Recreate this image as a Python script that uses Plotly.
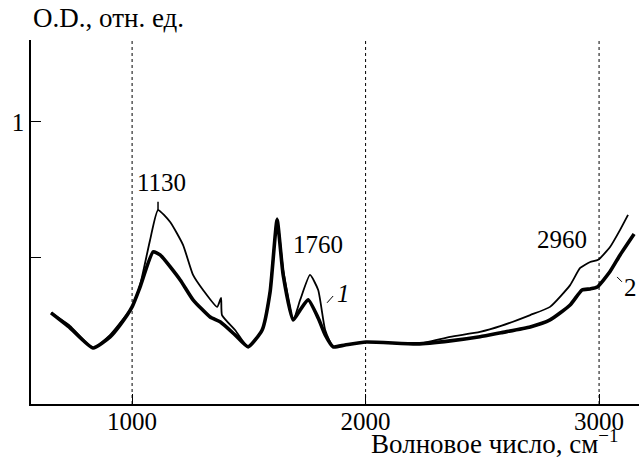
import plotly.graph_objects as go

# Spectrum 1 (thin line)
wn1 = [653, 734, 833, 906, 949, 1000, 1034, 1077, 1111, 1163, 1218, 1261, 1304, 1364,
       1381, 1385, 1441, 1497, 1557, 1591, 1621, 1647, 1690, 1720, 1762, 1797, 1827,
       1861, 1912, 2002, 2221, 2362, 2490, 2580, 2705, 2790, 2876, 2919, 2962, 2996,
       3047, 3090, 3124]
od1 = [0.298, 0.25, 0.169, 0.217, 0.261, 0.32, 0.40, 0.566, 0.676, 0.632, 0.548, 0.4375,
       0.382, 0.32, 0.353, 0.29, 0.235, 0.173, 0.235, 0.382, 0.647, 0.456, 0.272, 0.346,
       0.4375, 0.382, 0.235, 0.173, 0.18, 0.191, 0.184, 0.210, 0.228, 0.250, 0.29, 0.32,
       0.40, 0.463, 0.485, 0.493, 0.540, 0.603, 0.658]

# Spectrum 2 (thick line)
wn2 = [653, 734, 833, 906, 949, 1000, 1034, 1090, 1120, 1206, 1261, 1334, 1377, 1441,
       1497, 1557, 1591, 1621, 1647, 1690, 1720, 1754, 1797, 1827, 1861, 1912, 2002,
       2221, 2362, 2490, 2580, 2705, 2790, 2876, 2927, 2962, 2992, 3047, 3090, 3150]
od2 = [0.298, 0.243, 0.169, 0.21, 0.254, 0.32, 0.393, 0.522, 0.511, 0.419, 0.346, 0.283,
       0.265, 0.217, 0.173, 0.235, 0.375, 0.64, 0.4375, 0.272, 0.309, 0.346, 0.279, 0.217,
       0.173, 0.18, 0.191, 0.184, 0.195, 0.21, 0.225, 0.246, 0.272, 0.327, 0.382, 0.386,
       0.393, 0.450, 0.511, 0.588]

x_ticks = [1000, 2000, 3000]
y_ticks = [0.5, 1]
y_ticklabels = ["", "1"]

peak_labels = ["1130", "1760", "2960"]
peak_label_x = [1124, 1797, 2841]
peak_label_y = [0.776, 0.551, 0.566]

FONT = "Liberation Serif, Times New Roman, serif"
FS = 25     # numbers
FS_T = 27   # cyrillic titles

fig = go.Figure()
fig.add_trace(go.Scatter(x=wn2, y=od2, mode="lines",
                         line=dict(color="black", width=3.6, shape="spline", smoothing=0.5),
                         showlegend=False))
fig.add_trace(go.Scatter(x=wn1, y=od1, mode="lines",
                         line=dict(color="black", width=1.8, shape="spline", smoothing=0.5),
                         showlegend=False))

# small peak marker above 1130 band
fig.add_trace(go.Scatter(x=[1111, 1111], y=[0.676, 0.706], mode="lines",
                         line=dict(color="black", width=1.5), showlegend=False))

# vertical dotted grid lines
for xv in x_ticks:
    fig.add_shape(type="line", x0=xv, x1=xv, y0=0, y1=1, yref="paper", xref="x",
                  line=dict(color="black", width=1, dash="dot"), layer="below")

for t, xx, yy in zip(peak_labels, peak_label_x, peak_label_y):
    fig.add_annotation(x=xx, y=yy, text=t, showarrow=False,
                       font=dict(family=FONT, size=FS, color="black"))

# curve labels with leader lines
fig.add_annotation(x=1904, y=0.371, text="<i>1</i>", showarrow=False,
                   font=dict(family=FONT, size=FS, color="black"))
fig.add_shape(type="line", x0=1835, y0=0.335, x1=1861, y1=0.36,
              line=dict(color="black", width=1))
fig.add_annotation(x=3133, y=0.393, text="2", showarrow=False,
                   font=dict(family=FONT, size=FS, color="black"))
fig.add_shape(type="line", x0=3077, y0=0.43, x1=3098, y1=0.412,
              line=dict(color="black", width=1))

# axis titles
fig.add_annotation(x=0.0, y=1.06, xref="paper", yref="paper", text="O.D., отн. ед.",
                   showarrow=False, xanchor="left", yanchor="middle",
                   font=dict(family=FONT, size=FS_T, color="black"))
fig.add_annotation(x=1.0, y=0, xref="paper", yref="paper",
                   text="Волновое число, см<sup>−1</sup>", showarrow=False,
                   xanchor="right", yanchor="middle", xshift=-19, yshift=-38,
                   font=dict(family=FONT, size=FS_T, color="black"))

fig.update_layout(
    width=639, height=459,
    margin=dict(l=31, r=0, t=40, b=55),
    paper_bgcolor="white", plot_bgcolor="white",
    font=dict(family=FONT, size=FS, color="black"),
)
fig.update_xaxes(range=[567, 3171], tickvals=x_ticks, ticks="inside", ticklen=10,
                 tickcolor="black", showline=True, linecolor="black", linewidth=1.5,
                 showgrid=False, zeroline=False, tickfont=dict(family=FONT, size=FS),
                 ticklabelstandoff=-6)
fig.update_yaxes(range=[-0.037, 1.301], tickvals=y_ticks, ticktext=y_ticklabels,
                 ticks="inside", ticklen=10, tickcolor="black", showline=True,
                 linecolor="black", linewidth=1.5, showgrid=False, zeroline=False,
                 tickfont=dict(family=FONT, size=FS))

fig.write_html("out.html")
